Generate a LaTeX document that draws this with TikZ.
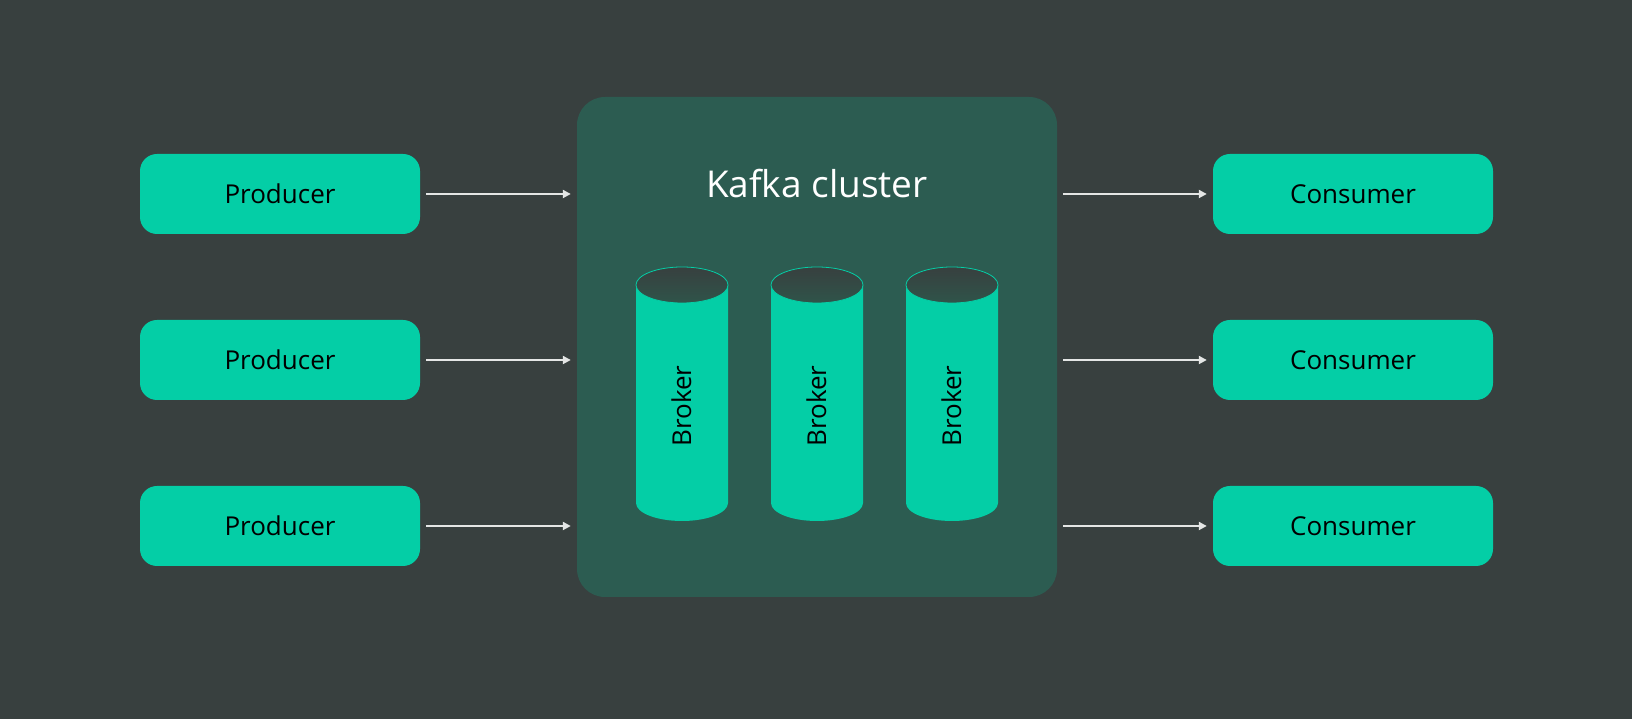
\documentclass[tikz,border=0pt]{standalone}
\usepackage{fontspec}
\setmainfont{Open Sans}
\usetikzlibrary{arrows.meta,positioning}

\definecolor{bgcol}{RGB}{56,64,63}
\definecolor{clustercol}{RGB}{44,92,81}
\definecolor{kafkateal}{RGB}{4,206,166}
\definecolor{capcol}{RGB}{47,84,74}
\definecolor{arrowcol}{RGB}{228,230,229}

\begin{document}
\begin{tikzpicture}[x=1pt,y=1pt,
	box/.style={fill=kafkateal, rounded corners=17pt, minimum width=280pt, minimum height=80pt,
		inner sep=0pt, text=black, font=\fontsize{26}{30}\selectfont},
	flow/.style={draw=arrowcol, line width=2pt, -{Triangle[length=8pt,width=8pt]},
		shorten <=6pt, shorten >=6pt}]

	% ---- background

	\fill[bgcol] (0,0) rectangle (1632,719);
	\useasboundingbox (0,0) rectangle (1632,719);

	% ---- cluster

	\node[fill=clustercol, rounded corners=28pt, minimum width=480pt, minimum height=500pt] (cluster) at (817,372) {};
	\node[anchor=base, text=white, font=\fontsize{37}{42}\selectfont] (title) at (817,521) {Kafka cluster};

	% ---- brokers

	\def\rx{46}
	\def\ry{18}
	\def\ytop{434}
	\def\ybot{216}

	\foreach \i/\x in {1/682,2/817,3/952} {
		\coordinate (T\i) at (\x,\ytop);
		\coordinate (B\i) at (\x,\ybot);
		\fill[kafkateal] ([xshift=-\rx pt]T\i) -- ([xshift=-\rx pt]B\i)
			arc[start angle=180, end angle=360, x radius=\rx pt, y radius=\ry pt]
			-- ([xshift=\rx pt]T\i) -- cycle;
		\shade[top color=bgcol, bottom color=capcol] (T\i) ellipse [x radius=\rx pt, y radius=\ry pt];
		\draw[kafkateal, line width=0.8pt] (T\i) ellipse [x radius=\rx pt, y radius=\ry pt];
		\node[rotate=90, anchor=base, text=black, font=\fontsize{26}{30}\selectfont] (broker\i) at (\x+9,313) {Broker};
	}

	% ---- producers and consumers

	\foreach \i/\y in {1/525,2/359,3/193} {
		\node[box] (producer\i) at (280,\y) {Producer};
		\node[box] (consumer\i) at (1353,\y) {Consumer};
		\draw[flow] (producer\i.east) -- (producer\i.east -| cluster.west);
		\draw[flow] (consumer\i.west -| cluster.east) -- (consumer\i.west);
	}

\end{tikzpicture}
\end{document}
